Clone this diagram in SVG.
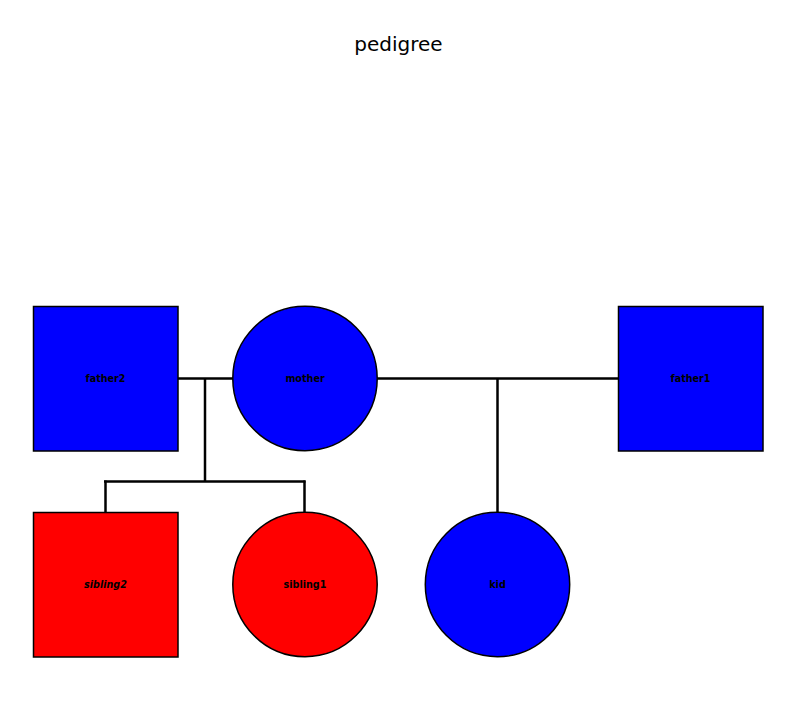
<svg xmlns="http://www.w3.org/2000/svg" width="801" height="726" viewBox="0 0 801 726">
<style>
.lbl{font-family:"DejaVu Sans",sans-serif;font-size:9.6px;font-weight:bold;text-anchor:middle;dominant-baseline:central;fill:#000}
.shape{stroke:#000;stroke-width:1.5}
.blue{fill:#0000ff}
.red{fill:#ff0000}
.conn{stroke:#000;stroke-width:2.5;fill:none}
</style>
<rect width="801" height="726" fill="#fff"/>
<text x="398.5" y="51" font-family="DejaVu Sans, sans-serif" font-size="20" text-anchor="middle" fill="#000">pedigree</text>
<g id="connectors">
<path class="conn" d="M178,378.5 H233"/>
<path class="conn" d="M377,378.5 H618"/>
<path class="conn" d="M205,378.5 V481.5"/>
<path class="conn" d="M104,481.5 H305.5"/>
<path class="conn" d="M105.5,480.5 V512"/>
<path class="conn" d="M304.5,480.5 V512"/>
<path class="conn" d="M497.5,378.5 V512"/>
</g>
<g id="father2"><rect class="shape blue" x="33.5" y="306.5" width="144.5" height="144.5"/><text class="lbl" x="105.5" y="378.5">father2</text></g>
<g id="mother"><circle class="shape blue" cx="305" cy="378.5" r="72.2"/><text class="lbl" x="305" y="378.5">mother</text></g>
<g id="father1"><rect class="shape blue" x="618.5" y="306.5" width="144.5" height="144.5"/><text class="lbl" x="690.5" y="378.5">father1</text></g>
<g id="sibling2"><rect class="shape red" x="33.5" y="512.5" width="144.5" height="144.5"/><text class="lbl" x="105.5" y="584.5" font-style="italic">sibling2</text></g>
<g id="sibling1"><circle class="shape red" cx="305" cy="584.5" r="72.2"/><text class="lbl" x="305" y="584.5">sibling1</text></g>
<g id="kid"><circle class="shape blue" cx="497.5" cy="584.5" r="72.2"/><text class="lbl" x="497.5" y="584.5">kid</text></g>
</svg>
